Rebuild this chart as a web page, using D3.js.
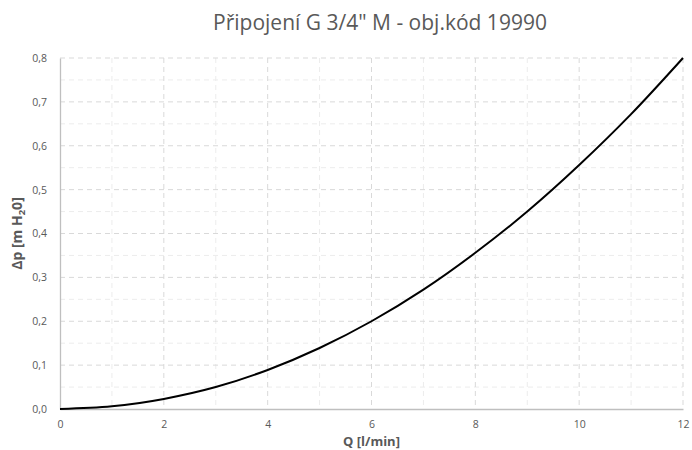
<!DOCTYPE html>
<html>
<head>
<meta charset="utf-8">
<script src="https://cdn.jsdelivr.net/npm/d3@7"></script>
<style>
  body { margin: 0; background: #fff; }
  text { font-family: "Open Sans", "Noto Sans", sans-serif; }
</style>
</head>
<body>
<div id="chart"></div>
<script>
// Data
const flow = [0, 1, 2, 3, 4, 5, 6, 7, 8, 9, 10, 11, 12];
const pressure = [0, 0.006, 0.023, 0.05, 0.089, 0.139, 0.2, 0.272, 0.356, 0.45, 0.556, 0.672, 0.8];
const xTicks = [0, 2, 4, 6, 8, 10, 12];
const yTicks = [0, 0.1, 0.2, 0.3, 0.4, 0.5, 0.6, 0.7, 0.8];

const width = 692, height = 450;
const margin = {top: 58, right: 9, bottom: 41, left: 60};
const w = width - margin.left - margin.right;
const h = height - margin.top - margin.bottom;

const svg = d3.select('#chart').append('svg')
    .attr('width', width)
    .attr('height', height);

const g = svg.append('g')
    .attr('transform', `translate(${margin.left}, ${margin.top})`);

const x = d3.scaleLinear().domain([0, 12]).range([0, w]);
const y = d3.scaleLinear().domain([0, 0.8]).range([h, 0]);

// Minor grid
const minorX = d3.range(1, 12, 2);
const minorY = d3.range(0.05, 0.8, 0.1);
g.append('g').selectAll('line').data(minorX).enter().append('line')
    .attr('x1', d => x(d)).attr('x2', d => x(d))
    .attr('y1', 0).attr('y2', h)
    .attr('stroke', '#ececec').attr('stroke-dasharray', '5,4');
g.append('g').selectAll('line').data(minorY).enter().append('line')
    .attr('y1', d => y(d)).attr('y2', d => y(d))
    .attr('x1', 0).attr('x2', w)
    .attr('stroke', '#ececec').attr('stroke-dasharray', '5,4');

// Major grid
g.append('g').selectAll('line').data(xTicks.slice(1)).enter().append('line')
    .attr('x1', d => x(d)).attr('x2', d => x(d))
    .attr('y1', 0).attr('y2', h)
    .attr('stroke', '#d9d9d9').attr('stroke-dasharray', '5,4');
g.append('g').selectAll('line').data(yTicks.slice(1)).enter().append('line')
    .attr('y1', d => y(d)).attr('y2', d => y(d))
    .attr('x1', 0).attr('x2', w)
    .attr('stroke', '#d9d9d9').attr('stroke-dasharray', '5,4');

// Axes
const fmt = d3.format('.1f');
const xAxis = g.append('g')
    .attr('transform', `translate(0, ${h})`)
    .call(d3.axisBottom(x).tickValues(xTicks).tickSize(0).tickPadding(12));
const yAxis = g.append('g')
    .call(d3.axisLeft(y).tickValues(yTicks).tickSize(0).tickPadding(13)
        .tickFormat(d => fmt(d).replace('.', ',')));

[xAxis, yAxis].forEach(a => {
    a.select('.domain').attr('stroke', '#bfbfbf').attr('stroke-width', 1.3);
    a.selectAll('text')
        .attr('font-family', '"Open Sans", sans-serif')
        .attr('font-size', '10.5px')
        .attr('fill', '#595959');
});

// Curve
const line = d3.line()
    .x((d, i) => x(flow[i]))
    .y(d => y(d))
    .curve(d3.curveMonotoneX);

g.append('path')
    .datum(pressure)
    .attr('fill', 'none')
    .attr('stroke', '#000')
    .attr('stroke-width', 2)
    .attr('d', line);

// Title
svg.append('text')
    .attr('x', 380).attr('y', 30)
    .attr('text-anchor', 'middle')
    .attr('font-size', '21px')
    .attr('fill', '#595959')
    .text('Připojení G 3/4" M - obj.kód 19990');

// Axis titles
svg.append('text')
    .attr('x', margin.left + w / 2).attr('y', 446)
    .attr('text-anchor', 'middle')
    .attr('font-size', '13px')
    .attr('font-weight', 'bold')
    .attr('fill', '#595959')
    .text('Q [l/min]');

const yLabel = svg.append('text')
    .attr('transform', `translate(22, ${margin.top + h / 2}) rotate(-90)`)
    .attr('text-anchor', 'middle')
    .attr('font-size', '14px')
    .attr('font-weight', 'bold')
    .attr('fill', '#595959');
yLabel.append('tspan').text('Δp [m H');
yLabel.append('tspan').attr('font-size', '9.5px').attr('dy', 3).text('2');
yLabel.append('tspan').attr('dy', -3).text('0]');
</script>
</body>
</html>
